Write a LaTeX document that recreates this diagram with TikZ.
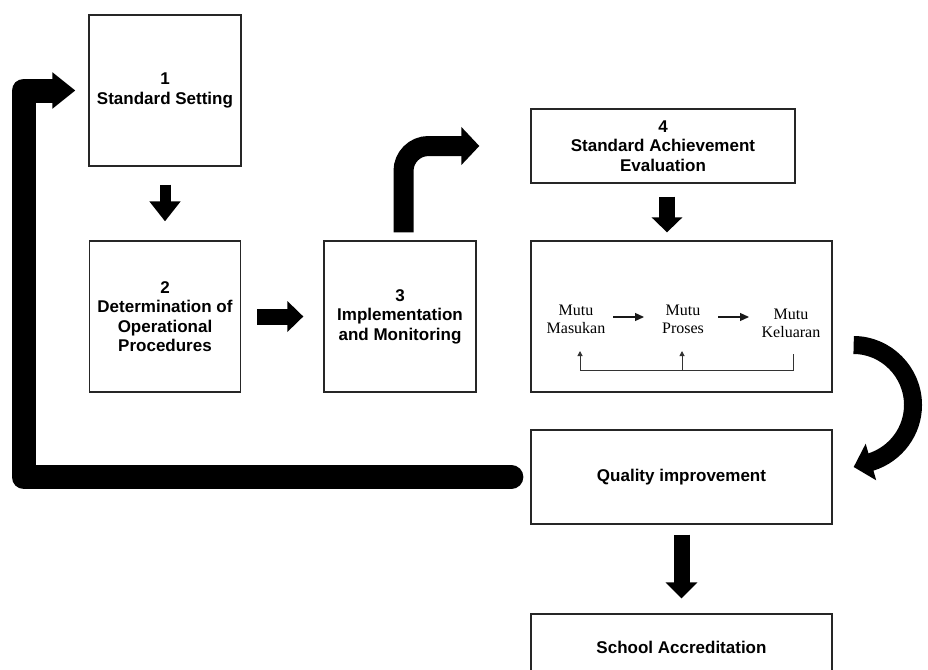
\documentclass[tikz,border=0pt]{standalone}
\usepackage{fontspec}
\setmainfont{Liberation Sans}
\newfontfamily\serifmutu{Liberation Serif}
\usetikzlibrary{arrows.meta}
\begin{document}
\begin{tikzpicture}[x=1pt,y=-1pt,
  box/.style={draw=black!85, line width=1.3pt, inner sep=0pt, align=center,
    font=\fontsize{17}{19.5}\selectfont\bfseries},
  mututxt/.style={inner sep=0pt, align=center, font=\serifmutu\fontsize{16}{18}\selectfont},
  smallarr/.style={line width=1.2pt, draw=black!90, -{Triangle[length=9pt,width=8pt]}},
  thinarr/.style={line width=1pt, draw=black!80, -{Triangle[length=5pt,width=5pt]}}
]
\useasboundingbox (0,0) rectangle (928,669);

% boxes
\node[box, minimum width=152pt, minimum height=151pt] (b1) at (165,90.5) {1\\Standard Setting};
\node[box, minimum width=151pt, minimum height=151pt] (b2) at (165,316.5) {2\\Determination of\\Operational\\Procedures};
\node[box, minimum width=152pt, minimum height=151pt] (b3) at (400,316.5) {3\\Implementation\\and Monitoring};
\node[box, minimum width=264pt, minimum height=74pt] (b4) at (663,146) {4\\Standard Achievement\\Evaluation};
\node[box, minimum width=301pt, minimum height=151pt] (mutu) at (681.5,316.5) {};
\node[box, minimum width=301pt, minimum height=94pt] (q) at (681.5,477) {Quality improvement};
\node[box, minimum width=301pt, minimum height=66pt] (s) at (681.5,647) {School Accreditation};

% inner content of mutu box
\node[mututxt] (m1) at (576,319) {Mutu\\Masukan};
\node[mututxt] (m2) at (683,319) {Mutu\\Proses};
\node[mututxt] (m3) at (791,323) {Mutu\\Keluaran};
\draw[smallarr] ([xshift=37pt,yshift=2pt]m1.center) -- ([xshift=-39pt,yshift=2pt]m2.center);
\draw[smallarr] ([xshift=35pt,yshift=2pt]m2.center) -- ([xshift=-42pt,yshift=6pt]m3.center);
\draw[thinarr] ([xshift=2pt,yshift=-31pt]m3.center) -- ([xshift=2pt,yshift=-47pt]m3.center) -| ([xshift=4pt,yshift=-32pt]m1.center);
\draw[thinarr] ([xshift=-1pt,yshift=-51pt]m2.center) -- ([xshift=-1pt,yshift=-32pt]m2.center);

% big straight arrows
\draw[line width=11pt, -{Triangle[length=20pt,width=30pt]}, shorten <=18pt, shorten >=19pt] (b1.south) -- (b2.north);
\draw[line width=16pt, -{Triangle[length=16pt,width=30pt]}, shorten <=16pt, shorten >=20pt] (b2.east) -- (b3.west);
\draw[line width=16pt, -{Triangle[length=15pt,width=30pt]}, shorten <=13pt, shorten >=8pt] ([xshift=4pt]b4.south) -- ([xshift=4pt]b4.south |- mutu.north);
\draw[line width=16pt, -{Triangle[length=16pt,width=31pt]}, shorten <=10pt, shorten >=15pt] (q.south) -- (s.north);

% bent arrow 3 -> 4
\draw[line width=20pt, rounded corners=25pt, -{Triangle[length=18pt,width=37pt]}]
  ([xshift=3.5pt,yshift=8pt]b3.north) |- ([xshift=-51pt]b4.west);

% feedback arrow quality -> 1
\coordinate (fbx) at (23.5,300);
\draw[line width=24pt, line cap=round, line join=round, -{Triangle[length=23pt,width=35pt]}]
  ([xshift=-19pt]q.west) -| (fbx) |- ([xshift=-13pt]b1.west);

% curved arrow mutu -> quality
\draw[line width=18pt, -{Triangle[length=18pt,width=37pt]}]
  ([xshift=21pt,yshift=-28.5pt]mutu.east) .. controls (886,345) and (913,372) .. (913,405)
  .. controls (913,431) and (896,454) .. (871,462) -- ([xshift=21pt,yshift=10pt]q.east);
\end{tikzpicture}
\end{document}
